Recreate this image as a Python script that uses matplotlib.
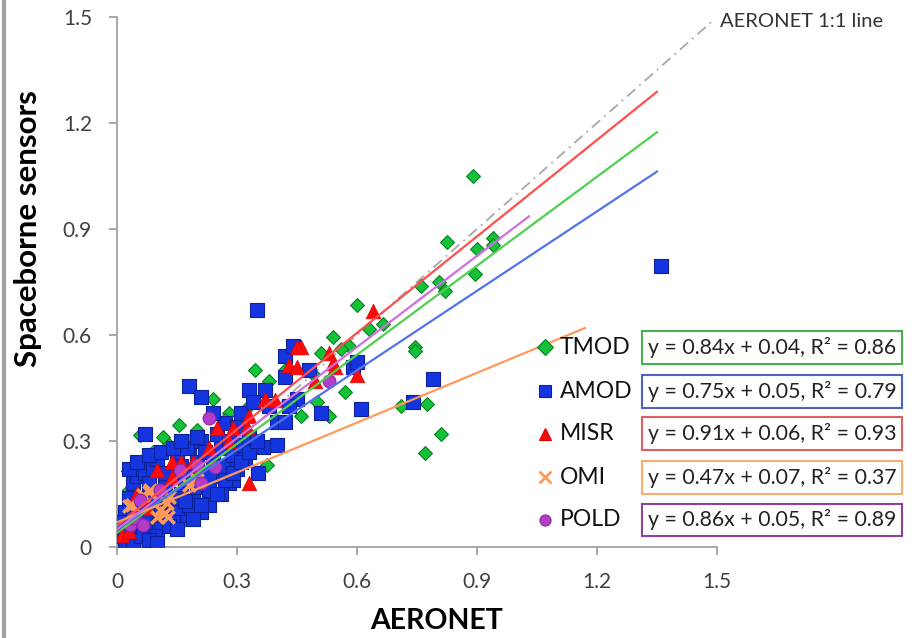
import matplotlib
matplotlib.use('Agg')
import matplotlib.pyplot as plt
from matplotlib.lines import Line2D
import numpy as np

plt.rcParams['font.family'] = ['Lato', 'DejaVu Sans']

# scatter points (AERONET, sensor)
tmod_x = [0.89, 0.825, 0.90, 0.94, 0.94, 0.895, 0.76, 0.805, 0.82, 0.60, 0.63, 0.665, 0.745,
          0.745, 0.71, 0.775, 0.81, 0.77, 0.57, 0.53, 0.51, 0.54, 0.58, 0.56, 0.46, 0.345,
          0.24, 0.28, 0.155, 0.115, 0.375, 0.065, 0.157, 0.028, 0.008, 0.057, 0.49, 0.50,
          0.03, 0.05, 0.09, 0.13, 0.20, 0.27, 0.33, 0.38, 0.42, 0.02, 0.11, 0.18, 0.25]
tmod_y = [1.05, 0.864, 0.844, 0.875, 0.855, 0.773, 0.74, 0.75, 0.725, 0.685, 0.617, 0.63, 0.565,
          0.555, 0.40, 0.405, 0.32, 0.265, 0.44, 0.37, 0.55, 0.595, 0.57, 0.56, 0.37, 0.50,
          0.42, 0.38, 0.345, 0.31, 0.232, 0.0, 0.065, 0.215, 0.10, 0.317, 0.49, 0.41,
          0.16, 0.03, 0.27, 0.29, 0.33, 0.36, 0.40, 0.47, 0.50, 0.08, 0.05, 0.30, 0.15]

amod_x = [0.01, 0.02, 0.03, 0.02, 0.03, 0.04, 0.05, 0.06, 0.07, 0.04, 0.05, 0.06, 0.07, 0.08,
          0.09, 0.08, 0.09, 0.10, 0.11, 0.12, 0.10, 0.12, 0.13, 0.14, 0.15, 0.16, 0.17, 0.17,
          0.18, 0.19, 0.20, 0.20, 0.21, 0.22, 0.23, 0.24, 0.25, 0.26, 0.27, 0.28, 0.29, 0.30,
          0.31, 0.32, 0.33, 0.12, 0.14, 0.15, 0.16, 0.18, 0.19, 0.22, 0.25, 0.27, 0.28, 0.30,
          0.31, 0.24, 0.35, 0.18, 0.21, 0.33, 0.37, 0.34, 0.365, 0.40, 0.353, 0.175, 0.07,
          0.42, 0.42, 0.44, 0.51, 0.59, 0.60, 0.61, 0.74, 0.79, 1.36, 0.45, 0.43, 0.40, 0.42,
          0.38, 0.48, 0.06, 0.11, 0.23, 0.26, 0.29, 0.14, 0.21,
          0.02, 0.04, 0.06, 0.08, 0.10, 0.03, 0.05, 0.07, 0.09, 0.11, 0.13, 0.15, 0.17, 0.19,
          0.21, 0.23, 0.25, 0.27, 0.29, 0.31, 0.33, 0.35, 0.03, 0.05, 0.08, 0.11, 0.14, 0.16,
          0.20, 0.01]
amod_y = [0.03, 0.05, 0.02, 0.10, 0.14, 0.18, 0.20, 0.22, 0.21, 0.08, 0.04, 0.10, 0.14, 0.18,
          0.22, 0.06, 0.10, 0.05, 0.13, 0.17, 0.25, 0.09, 0.12, 0.20, 0.26, 0.15, 0.09, 0.19,
          0.28, 0.13, 0.24, 0.17, 0.30, 0.21, 0.16, 0.25, 0.20, 0.28, 0.23, 0.18, 0.26, 0.22,
          0.29, 0.25, 0.31, 0.21, 0.08, 0.11, 0.23, 0.12, 0.20, 0.27, 0.32, 0.35, 0.30, 0.34,
          0.38, 0.38, 0.67, 0.455, 0.425, 0.445, 0.445, 0.41, 0.283, 0.29, 0.21, 0.28, 0.32,
          0.48, 0.54, 0.57, 0.38, 0.51, 0.525, 0.39, 0.41, 0.475, 0.795, 0.42, 0.40, 0.355, 0.355,
          0.40, 0.50, 0.04, 0.07, 0.12, 0.15, 0.19, 0.14, 0.10,
          0.01, 0.01, 0.03, 0.02, 0.01, 0.06, 0.12, 0.07, 0.13, 0.09, 0.06, 0.05, 0.13, 0.08,
          0.12, 0.20, 0.15, 0.19, 0.21, 0.24, 0.27, 0.30, 0.22, 0.24, 0.26, 0.27, 0.28, 0.30,
          0.31, 0.07]

misr_x = [0.64, 0.33, 0.46, 0.53, 0.43, 0.45, 0.545, 0.60, 0.495, 0.37, 0.395, 0.33, 0.29,
          0.25, 0.325, 0.23, 0.10, 0.137, 0.16, 0.19, 0.137, 0.05, 0.075, 0.012, 0.45, 0.54,
          0.20, 0.03, 0.28]
misr_y = [0.667, 0.18, 0.565, 0.55, 0.515, 0.51, 0.51, 0.487, 0.47, 0.42, 0.415, 0.37, 0.337,
          0.337, 0.34, 0.28, 0.218, 0.24, 0.24, 0.24, 0.198, 0.153, 0.11, 0.034, 0.565, 0.52,
          0.21, 0.045, 0.30]

omi_x = [0.083, 0.03, 0.107, 0.10, 0.125, 0.128, 0.12, 0.20, 0.18, 0.065, 0.13, 0.08, 0.037]
omi_y = [0.16, 0.115, 0.105, 0.085, 0.125, 0.085, 0.095, 0.19, 0.175, 0.147, 0.142, 0.155, 0.12]

pold_x = [0.23, 0.157, 0.20, 0.245, 0.21, 0.057, 0.045, 0.065, 0.033, 0.107, 0.53, 0.04]
pold_y = [0.365, 0.218, 0.232, 0.227, 0.18, 0.133, 0.085, 0.062, 0.062, 0.16, 0.47, 0.082]

names = ['TMOD', 'AMOD', 'MISR', 'OMI', 'POLD']
slopes = [0.84, 0.75, 0.91, 0.47, 0.86]
intercepts = [0.04, 0.05, 0.06, 0.07, 0.05]
r2 = [0.86, 0.79, 0.93, 0.37, 0.89]
fit_xmax = [1.35, 1.35, 1.35, 1.17, 1.03]

fig = plt.figure(figsize=(9.16, 6.38), dpi=100)
ax = fig.add_axes([0.1277, 0.1426, 0.655, 0.8307])

ax.scatter(tmod_x, tmod_y, marker='D', s=50, color='#14c23a', edgecolor='#0b7f22', linewidth=0.8, zorder=2)
ax.scatter(amod_x, amod_y, marker='s', s=100, color='#1535e0', edgecolor='#0c2299', linewidth=0.8, zorder=3)
ax.scatter(misr_x, misr_y, marker='^', s=110, color='#ff0a0a', edgecolor='#e00000', linewidth=0.5, zorder=4)
ax.scatter(omi_x, omi_y, marker='x', s=80, color='#ff9a5a', linewidth=2.5, zorder=5)
ax.scatter(pold_x, pold_y, marker='o', s=85, color='#b43cc8', edgecolor='#8a2aa0', linewidth=0.8, zorder=6)

line_colors = ['#4fd04f', '#5272ee', '#ff4f4f', '#ff9a5a', '#cf6fe0']
box_colors = ['#4caf50', '#5060c0', '#e06060', '#f5b070', '#9040a0']
for i in range(5):
    xs = np.array([0, fit_xmax[i]])
    ax.plot(xs, slopes[i] * xs + intercepts[i], color=line_colors[i], lw=1.6, zorder=7)

# 1:1 line
ax.plot([0, 1.49], [0, 1.49], color='#a8a8a8', lw=1.3, ls=(0, (6, 3, 1, 3)), zorder=1)
ax.text(1.508, 1.487, 'AERONET 1:1 line', fontsize=14.5, color='#333333', va='center', ha='left')

ax.set_xlim(0, 1.5)
ax.set_ylim(0, 1.5)
ax.set_xticks([0, 0.3, 0.6, 0.9, 1.2, 1.5])
ax.set_xticklabels(['0', '0.3', '0.6', '0.9', '1.2', '1.5'])
ax.set_yticks([0, 0.3, 0.6, 0.9, 1.2, 1.5])
ax.set_yticklabels(['0', '0.3', '0.6', '0.9', '1.2', '1.5'])
ax.tick_params(labelsize=15, colors='#9a9a9a', labelcolor='#404040', length=6, width=1.2, pad=12)
for side in ['top', 'right']:
    ax.spines[side].set_visible(False)
for side in ['left', 'bottom']:
    ax.spines[side].set_color('#9a9a9a')
    ax.spines[side].set_linewidth(1.2)
ax.set_xlabel('AERONET', fontsize=20.5, fontweight='bold')
ax.set_ylabel('Spaceborne sensors', fontsize=22.5, fontweight='bold')
ax.xaxis.set_label_coords(0.533, -0.115)
ax.yaxis.set_label_coords(-0.125, 0.60)

# legend entries with equation boxes
markers = ['D', 's', '^', 'x', 'o']
mcolors = ['#14c23a', '#1535e0', '#ff0a0a', '#ff9a5a', '#b43cc8']
medges = ['#0b7f22', '#0c2299', '#e00000', '#ff9a5a', '#8a2aa0']
ys = [0.456, 0.387, 0.320, 0.252, 0.185]
for i in range(5):
    fig.add_artist(Line2D([0.595], [ys[i]], marker=markers[i], color=mcolors[i], markersize=8,
                          markeredgewidth=2 if markers[i] == 'x' else 0.8,
                          markeredgecolor=medges[i], linestyle='none', transform=fig.transFigure))
    fig.text(0.611, ys[i], names[i], fontsize=16.5, color='#111111', va='center', ha='left')
    eq = f'y = {slopes[i]:.2f}x + {intercepts[i]:.2f}, R² = {r2[i]:.2f}'
    fig.text(0.707, ys[i], eq, fontsize=15.3, color='#222222', va='center', ha='left',
             bbox=dict(boxstyle='square,pad=0.28', facecolor='white', edgecolor=box_colors[i], linewidth=1.5))

# grey frame edge at left of the picture
fig.add_artist(Line2D([0.004, 0.004], [0, 1], color='#a0a0a0', lw=3, transform=fig.transFigure))

fig.savefig('out.png', dpi=100)
